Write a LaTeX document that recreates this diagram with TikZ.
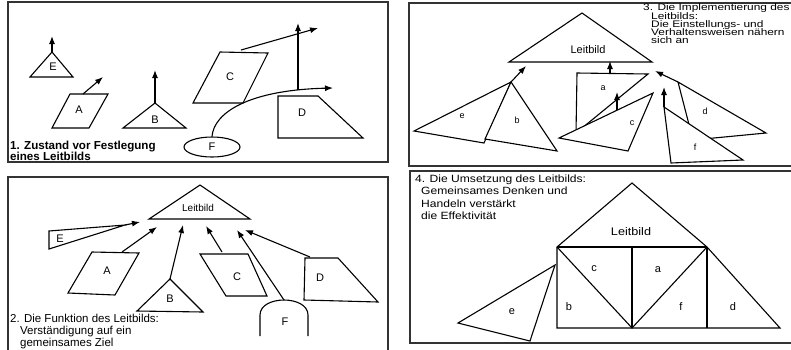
\documentclass[tikz,border=0pt]{standalone}
\usepackage{fontspec}
\usepackage{graphicx}
\setmainfont{Liberation Sans}
\usetikzlibrary{arrows.meta,shapes.geometric}
\newcommand{\myfs}[1]{\fontsize{#1}{#1}\selectfont}
\begin{document}
\begin{tikzpicture}[x=1pt,y=-1pt,
  shp/.style={draw=black,line width=1.1pt,fill=white,line join=miter},
  edge/.style={draw=black,line width=1.1pt},
  arr/.style={draw=black,line width=1.1pt,-{Latex[length=8pt,width=6pt]}},
  frame/.style={draw=black!80,line width=1.3pt},
  lbl/.style={inner sep=0pt,font=\myfs{11}},
  slbl/.style={inner sep=0pt,font=\myfs{9}},
  ttl/.style={inner sep=0pt,anchor=base west},
]
\useasboundingbox (0,0) rectangle (791,349);
\begin{scope}
\clip (0,0) rectangle (791,349);
% frames
\draw[frame] (8,2) rectangle (388,162);
\draw[frame] (8,177) rectangle (388,360);
\draw[frame] (409,3) rectangle (800,166);
\draw[frame] (410,171) rectangle (800,343);

% ---------------- Panel 1 ----------------
\coordinate (E1t) at (52,52); \coordinate (E1a) at (52,36);
\draw[shp] (E1t) -- (73,77) -- (30,77) -- cycle;
\node[lbl] (E1) at (53,67) {E};
\draw[arr] (E1t) -- (E1a);

\coordinate (A1s) at (83,94); \coordinate (A1a) at (103,77);
\draw[shp] (70,94) -- (108,94) -- (89,128) -- (52,128) -- cycle;
\node[lbl] (A1) at (79,110) {A};
\draw[arr] (A1s) -- (A1a);

\coordinate (B1t) at (155,103); \coordinate (B1a) at (155,70);
\draw[shp] (B1t) -- (186,128) -- (123,128) -- cycle;
\node[lbl] (B1) at (155,120) {B};
\draw[arr] (B1t) -- (B1a);

\coordinate (C1s) at (241,50); \coordinate (C1a) at (318,28);
\draw[shp] (220,52) -- (268,53) -- (243,103) -- (193,103) -- cycle;
\node[lbl] (C1) at (230,77) {C};
\draw[arr] (C1s) -- (C1a);

\draw[shp] (278,96) -- (318,96) -- (363,138) -- (278,138) -- cycle;
\node[lbl] (D1) at (302,113) {D};

\node[draw=black,line width=1.1pt,ellipse,minimum width=56pt,minimum height=20pt,inner sep=0pt,font=\myfs{11}] (F1) at (212,147) {F};
\coordinate (F1c) at (333,88);
\coordinate (V1s) at (298,90); \coordinate (V1a) at (298,23);
\draw[arr] (F1.north) .. controls (214,112) and (250,90) .. (F1c);
\draw[arr] (V1s) -- (V1a);

\node[ttl,font=\myfs{11.6}\bfseries] (T1a) at (10,149.5) {1. Zustand vor Festlegung};
\node[ttl,font=\myfs{11.6}\bfseries] (T1b) at (10,160) {eines Leitbilds};

% ---------------- Panel 2 ----------------
\draw[shp] (200,185) -- (250,219) -- (149,219) -- cycle;
\node[inner sep=0pt,font=\myfs{10}] (L2) at (198,208) {Leitbild};

\coordinate (E2t) at (125,225); \coordinate (E2a) at (140,222);
\draw[shp] (49,231) -- (E2t) -- (49,249) -- cycle;
\node[lbl] (E2) at (60,239) {E};
\draw[arr] (E2t) -- (E2a);

\coordinate (A2s) at (122,252); \coordinate (A2a) at (157,227);
\draw[shp] (92,252) -- (139,253) -- (115,295) -- (68,293) -- cycle;
\node[lbl] (A2) at (107,271) {A};
\draw[arr] (A2s) -- (A2a);

\coordinate (B2t) at (170,279); \coordinate (B2a) at (183,225);
\draw[shp] (B2t) -- (203,312) -- (137,311) -- cycle;
\node[lbl] (B2) at (170,299) {B};
\draw[arr] (B2t) -- (B2a);

\coordinate (C2s) at (222,252); \coordinate (C2a) at (206,226);
\draw[shp] (200,254) -- (248,254) -- (267,296) -- (226,296) -- cycle;
\node[lbl] (C2) at (237,277) {C};
\draw[arr] (C2s) -- (C2a);

\coordinate (F2t) at (284,300); \coordinate (F2a) at (237,230);
\draw[edge,fill=white] (260,336) -- (260,315) .. controls (260,295) and (308,295) .. (308,315) -- (308,336);
\node[lbl] (F2) at (285,322) {F};
\draw[arr] (F2t) -- (F2a);

\coordinate (D2s) at (310,257); \coordinate (D2a) at (245,230);
\draw[shp] (305,258) -- (338,258) -- (378,302) -- (304,300) -- cycle;
\node[lbl] (D2) at (320,278) {D};
\draw[arr] (D2s) -- (D2a);

\node[ttl,font=\myfs{11.5}] (T2a) at (10,322) {2. Die Funktion des Leitbilds:};
\node[ttl,font=\myfs{11.5}] (T2b) at (20,334) {Verständigung auf ein};
\node[ttl,font=\myfs{11.5}] (T2c) at (20,346) {gemeinsames Ziel};

% ---------------- Panel 3 ----------------
\draw[shp] (582,13) -- (652,62) -- (509,62) -- cycle;
\node[inner sep=0pt,font=\myfs{11}] (L3) at (588,50) {Leitbild};

\coordinate (eb3) at (511,82); \coordinate (eb3a) at (526,66);
\draw[shp] (414,131) -- (eb3) -- (484,143) -- cycle;
\node[slbl] (e3) at (462,116) {e};
\draw[shp] (eb3) -- (557,151) -- (485,139) -- cycle;
\node[slbl] (b3) at (517,120) {b};
\draw[arr] (eb3) -- (eb3a);

\coordinate (a3s) at (610,73.5); \coordinate (a3a) at (610,61);
\draw[shp] (577,73) -- (648,74) -- (576,133) -- cycle;
\node[slbl] (a3) at (603,88) {a};
\draw[arr] (a3s) -- (a3a);

\coordinate (c3s) at (617,110); \coordinate (c3a) at (617,92);
\draw[shp] (559,138) -- (653,93) -- (628,151) -- cycle;
\node[slbl] (c3) at (632,123) {c};
\draw[arr] (c3s) -- (c3a);

\coordinate (d3t) at (678,82); \coordinate (d3a) at (655,71);
\draw[shp] (d3t) -- (766,133) -- (693,140) -- cycle;
\node[slbl] (d3) at (705,111) {d};
\draw[arr] (d3t) -- (d3a);

\coordinate (f3t) at (664,107); \coordinate (f3a) at (664,87);
\draw[shp] (f3t) -- (743,160) -- (671,163) -- cycle;
\node[slbl] (f3) at (695,147) {f};
\draw[arr] (f3t) -- (f3a);

\node[ttl,font=\myfs{9.5}] (T3a) at (643,10.5) {\scalebox{1.25}[1]{3. Die Implementierung des}};
\node[ttl,font=\myfs{9.5}] (T3b) at (651,19) {\scalebox{1.25}[1]{Leitbilds:}};
\node[ttl,font=\myfs{9.5}] (T3c) at (651,27.3) {\scalebox{1.25}[1]{Die Einstellungs- und}};
\node[ttl,font=\myfs{9.5}] (T3d) at (651,35.6) {\scalebox{1.25}[1]{Verhaltensweisen nähern}};
\node[ttl,font=\myfs{9.5}] (T3e) at (651,43.9) {\scalebox{1.25}[1]{sich an}};

% ---------------- Panel 4 ----------------
\coordinate (R4tl) at (557,247); \coordinate (R4tr) at (707,247);
\coordinate (R4bl) at (557,328); \coordinate (R4br) at (707,328);
\coordinate (R4tm) at (632,247); \coordinate (R4bm) at (632,328);
\coordinate (R4ap) at (632,183); \coordinate (R4dr) at (780,328);
\draw[edge,line join=miter] (R4tl) -- (R4ap) -- (R4tr) -- (R4dr) -- (R4bl) -- cycle;
\draw[edge] (R4tl) -- (R4tr);
\draw[edge] (R4tm) -- (R4bm);
\draw[edge] (R4tr) -- (R4br);
\draw[edge] (R4tl) -- (R4bm) -- (R4tr);
\node[inner sep=0pt,font=\myfs{11}] (L4) at (631,232) {\scalebox{1.15}[1]{Leitbild}};
\node[lbl] (c4) at (594,269) {c};
\node[lbl] (a4) at (658,270) {a};
\node[lbl] (b4) at (569,307) {b};
\node[lbl] (f4) at (681,307) {f};
\node[lbl] (d4) at (733,307) {d};
\draw[shp] (555,265) -- (458,323) -- (530,341) -- cycle;
\node[lbl] (e4) at (512,312) {e};

\node[ttl,font=\myfs{10.5}] (T4a) at (415,182) {\scalebox{1.15}[1]{4. Die Umsetzung des Leitbilds:}};
\node[ttl,font=\myfs{10.5}] (T4b) at (421,194.5) {\scalebox{1.15}[1]{Gemeinsames Denken und}};
\node[ttl,font=\myfs{10.5}] (T4c) at (421,207) {\scalebox{1.15}[1]{Handeln verstärkt}};
\node[ttl,font=\myfs{10.5}] (T4d) at (421,219.5) {\scalebox{1.15}[1]{die Effektivität}};
\end{scope}
\end{tikzpicture}
\end{document}
